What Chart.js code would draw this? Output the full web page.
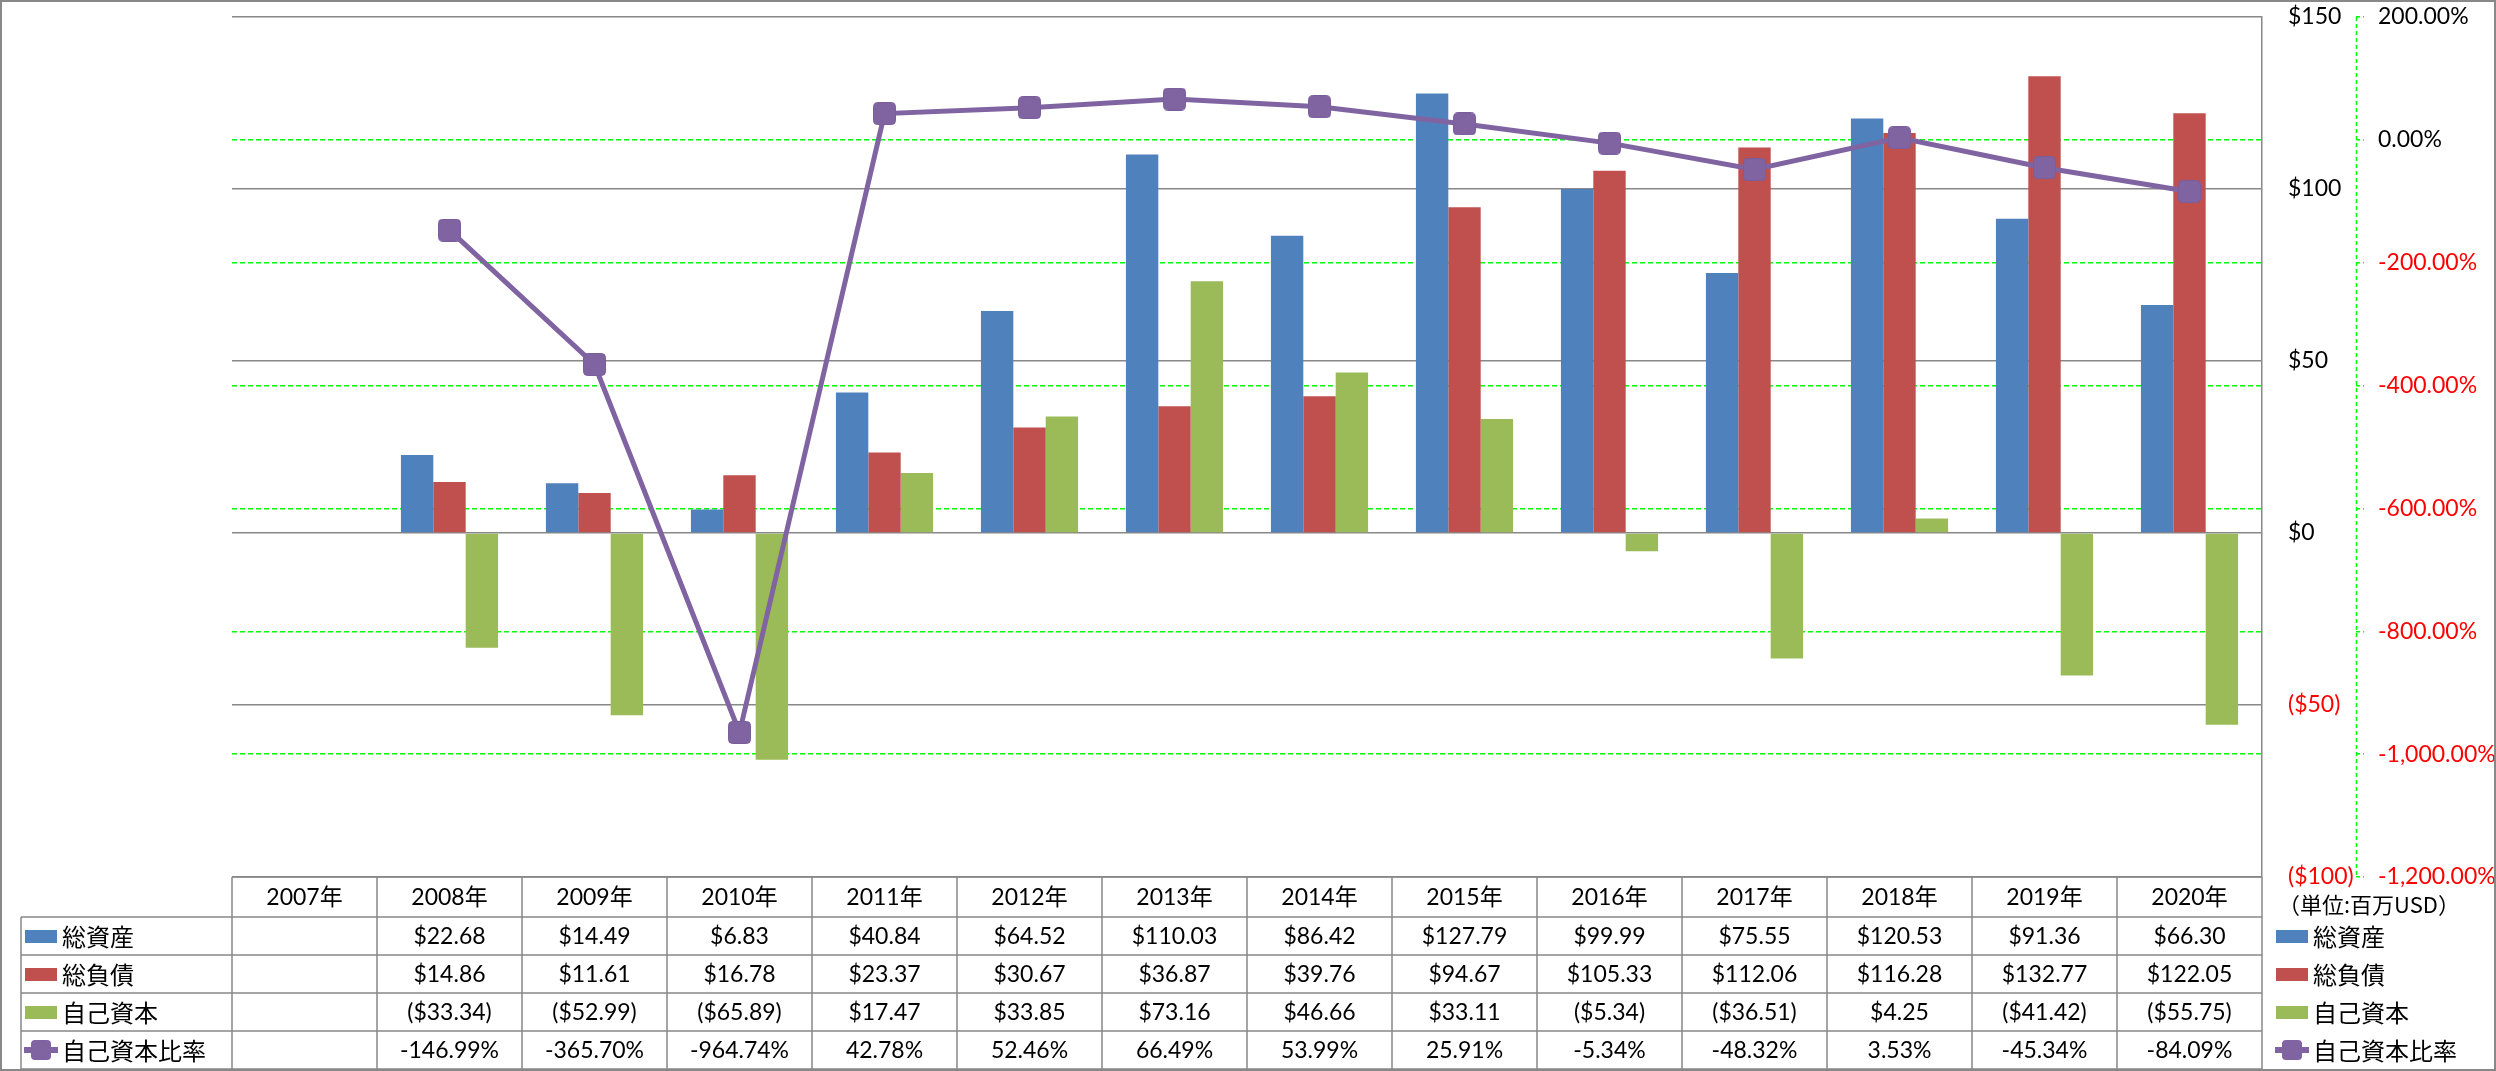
<!DOCTYPE html>
<html lang="ja">
<head>
<meta charset="utf-8">
<title>総資産・総負債・自己資本・自己資本比率</title>
<script src="https://cdn.jsdelivr.net/npm/chart.js@4.4.1/dist/chart.umd.min.js"></script>
<style>
	html, body { margin: 0; padding: 0; background: #ffffff; }
	#wrap { width: 2496px; height: 1071px; }
</style>
</head>
<body>
<div id="wrap"><canvas id="bs-chart" width="2496" height="1071"></canvas></div>
<script>
// Dữ liệu (単位: 百万USD)
var years = ['2007年', '2008年', '2009年', '2010年', '2011年', '2012年', '2013年',
	'2014年', '2015年', '2016年', '2017年', '2018年', '2019年', '2020年'];
var totalAssets = [null, 22.68, 14.49, 6.83, 40.84, 64.52, 110.03, 86.42, 127.79, 99.99, 75.55, 120.53, 91.36, 66.30];
var totalLiabilities = [null, 14.86, 11.61, 16.78, 23.37, 30.67, 36.87, 39.76, 94.67, 105.33, 112.06, 116.28, 132.77, 122.05];
var equity = [null, -33.34, -52.99, -65.89, 17.47, 33.85, 73.16, 46.66, 33.11, -5.34, -36.51, 4.25, -41.42, -55.75];
var equityRatio = [null, -146.99, -365.70, -964.74, 42.78, 52.46, 66.49, 53.99, 25.91, -5.34, -48.32, 3.53, -45.34, -84.09];

var seriesNames = ['総資産', '総負債', '自己資本', '自己資本比率'];
var seriesColors = ['#4F81BD', '#C0504D', '#9BBB59', '#8064A2'];
var unitLabel = '（単位:百万USD）';

// Trục
var moneyMin = -100, moneyMax = 150, moneyStep = 50;
var ratioMin = -1200, ratioMax = 200, ratioStep = 200;

var numFamily = 'Lato, "Noto Sans CJK JP", sans-serif';
var jpFamily = '"Noto Sans CJK JP", sans-serif';
var gridGray = '#888888';
var gridGreen = '#00FF00';

function fmtMoney(v) {
	if (v === null || v === undefined) return '';
	if (v < 0) return '($' + (-v).toFixed(2) + ')';
	return '$' + v.toFixed(2);
}
function fmtPercent(v) {
	if (v === null || v === undefined) return '';
	return v.toFixed(2) + '%';
}

function roundRectPath(g, x, y, w, h, r) {
	g.beginPath();
	g.moveTo(x + r, y);
	g.arcTo(x + w, y, x + w, y + h, r);
	g.arcTo(x + w, y + h, x, y + h, r);
	g.arcTo(x, y + h, x, y, r);
	g.arcTo(x, y, x + w, y, r);
	g.closePath();
}

// Marker hình vuông bo góc
function makeMarker(size, radius, color) {
	var c = document.createElement('canvas');
	c.width = size;
	c.height = size;
	var g = c.getContext('2d');
	roundRectPath(g, 0.5, 0.5, size - 1, size - 1, radius);
	g.fillStyle = color;
	g.fill();
	g.lineWidth = 1;
	g.strokeStyle = '#7A5E9C';
	g.stroke();
	return c;
}
var marker = makeMarker(23, 4, seriesColors[3]);

// bỏ khoảng đệm mà Chart.js thêm cho nhãn trục dọc
function fixAxis(width) {
	return function(scale) {
		scale.width = width;
		scale.paddingTop = 0;
		scale.paddingBottom = 0;
	};
}

// Vẽ bảng dữ liệu + chú thích
var dataTablePlugin = {
	id: 'dataTable',
	afterDraw: function(chart) {
		var ctx = chart.ctx;
		var area = chart.chartArea;
		var xScale = chart.scales.x;
		var y1 = chart.scales.y1;
		var colW = area.width / years.length;
		var top = area.bottom;
		var headH = 40, rowH = 38;
		var rows = [totalAssets, totalLiabilities, equity, equityRatio];
		var legLeft = 21;
		var bottom = top + headH + rowH * rows.length;
		var i, j, y;

		ctx.save();

		// trục phần trăm (đường đứt nét xanh)
		ctx.strokeStyle = gridGreen;
		ctx.lineWidth = 1.5;
		ctx.setLineDash([4, 3]);
		ctx.beginPath();
		ctx.moveTo(Math.round(y1.left) + 0.5, y1.top);
		ctx.lineTo(Math.round(y1.left) + 0.5, y1.bottom);
		ctx.stroke();
		ctx.setLineDash([]);

		// đường kẻ bảng
		ctx.strokeStyle = gridGray;
		ctx.lineWidth = 1.5;
		ctx.beginPath();
		ctx.moveTo(area.left, top);
		ctx.lineTo(area.right, top);
		for (j = 0; j <= rows.length; j++) {
			y = top + headH + rowH * j;
			ctx.moveTo(legLeft, y);
			ctx.lineTo(area.right, y);
		}
		for (i = 0; i <= years.length; i++) {
			var x = area.left + colW * i;
			ctx.moveTo(x, top);
			ctx.lineTo(x, bottom);
		}
		ctx.moveTo(legLeft, top + headH);
		ctx.lineTo(legLeft, bottom);
		ctx.stroke();

		// tiêu đề cột (năm)
		ctx.fillStyle = '#000000';
		ctx.textAlign = 'center';
		ctx.textBaseline = 'middle';
		ctx.font = '23px ' + numFamily;
		for (i = 0; i < years.length; i++) {
			ctx.fillText(years[i], xScale.getPixelForValue(i), top + headH / 2 + 1);
		}

		// giá trị
		for (j = 0; j < rows.length; j++) {
			y = top + headH + rowH * j + rowH / 2 + 1;
			for (i = 0; i < years.length; i++) {
				var txt = j === 3 ? fmtPercent(rows[j][i]) : fmtMoney(rows[j][i]);
				ctx.fillText(txt, xScale.getPixelForValue(i), y);
			}
		}

		// chú thích trái + phải
		var keyX = [25, 2276];
		for (var k = 0; k < keyX.length; k++) {
			for (j = 0; j < rows.length; j++) {
				y = top + headH + rowH * j + rowH / 2;
				drawKey(ctx, keyX[k], y, j);
				ctx.fillStyle = '#000000';
				ctx.textAlign = 'left';
				ctx.font = '24px ' + jpFamily;
				ctx.fillText(seriesNames[j], keyX[k] + 37, y + 1);
			}
		}

		// đơn vị
		ctx.font = '22px ' + jpFamily;
		ctx.fillStyle = '#000000';
		ctx.textAlign = 'left';
		ctx.fillText(unitLabel, 2278, 905);

		// viền ngoài
		ctx.strokeStyle = gridGray;
		ctx.lineWidth = 2;
		ctx.strokeRect(1, 1, chart.width - 2, chart.height - 2);

		ctx.restore();
	}
};

function drawKey(ctx, x, y, j) {
	if (j < 3) {
		ctx.fillStyle = seriesColors[j];
		ctx.fillRect(x, y - 6, 32, 13);
		return;
	}
	ctx.strokeStyle = seriesColors[3];
	ctx.lineWidth = 6;
	ctx.beginPath();
	ctx.moveTo(x - 1, y);
	ctx.lineTo(x + 33, y);
	ctx.stroke();
	ctx.fillStyle = seriesColors[3];
	roundRectPath(ctx, x + 6, y - 10, 20, 20, 4);
	ctx.fill();
}

var ctx = document.getElementById('bs-chart').getContext('2d');
var myChart = new Chart(ctx, {
	type: 'bar',
	data: {
		labels: years,
		datasets: [
			{
				type: 'line',
				label: seriesNames[3],
				data: equityRatio,
				yAxisID: 'y1',
				borderColor: seriesColors[3],
				backgroundColor: seriesColors[3],
				borderWidth: 5,
				tension: 0,
				pointStyle: marker,
				pointRadius: 12,
				order: 0
			},
			{
				label: seriesNames[0],
				data: totalAssets,
				yAxisID: 'y',
				backgroundColor: seriesColors[0],
				categoryPercentage: 0.67,
				barPercentage: 1.0,
				order: 1
			},
			{
				label: seriesNames[1],
				data: totalLiabilities,
				yAxisID: 'y',
				backgroundColor: seriesColors[1],
				categoryPercentage: 0.67,
				barPercentage: 1.0,
				order: 1
			},
			{
				label: seriesNames[2],
				data: equity,
				yAxisID: 'y',
				backgroundColor: seriesColors[2],
				categoryPercentage: 0.67,
				barPercentage: 1.0,
				order: 1
			}
		]
	},
	options: {
		responsive: false,
		animation: false,
		layout: {
			padding: { left: 232, top: 15, right: 0, bottom: 194 }
		},
		plugins: {
			legend: { display: false },
			tooltip: { enabled: false }
		},
		scales: {
			x: {
				display: false
			},
			y: {
				position: 'right',
				weight: 0,
				min: moneyMin,
				max: moneyMax,
				afterFit: fixAxis(94),
				grid: { color: gridGray, lineWidth: 1.5, drawTicks: false },
				border: { display: true, color: gridGray, width: 1.5 },
				ticks: {
					stepSize: moneyStep,
					padding: 26,
					font: { family: numFamily, size: 23 },
					color: function(c) { return c.tick && c.tick.value < 0 ? '#FF0000' : '#000000'; },
					callback: function(v) { return v < 0 ? '($' + (-v) + ')' : '$' + v; }
				}
			},
			y1: {
				position: 'right',
				weight: 1,
				min: ratioMin,
				max: ratioMax,
				afterFit: fixAxis(140),
				grid: {
					color: function(c) {
						var v = c.tick ? c.tick.value : 0;
						return (v === ratioMin || v === ratioMax) ? 'rgba(0,0,0,0)' : gridGreen;
					},
					lineWidth: 1.5,
					drawTicks: true,
					tickLength: 8,
					tickColor: gridGreen,
					tickBorderDash: [4, 3]
				},
				border: { display: false, dash: [5, 3] },
				ticks: {
					stepSize: ratioStep,
					padding: 14,
					font: { family: numFamily, size: 23 },
					color: function(c) { return c.tick && c.tick.value < 0 ? '#FF0000' : '#000000'; },
					callback: function(v) {
						return v.toLocaleString('en-US', { minimumFractionDigits: 2, maximumFractionDigits: 2 }) + '%';
					}
				}
			}
		}
	},
	plugins: [dataTablePlugin]
});
</script>
</body>
</html>
